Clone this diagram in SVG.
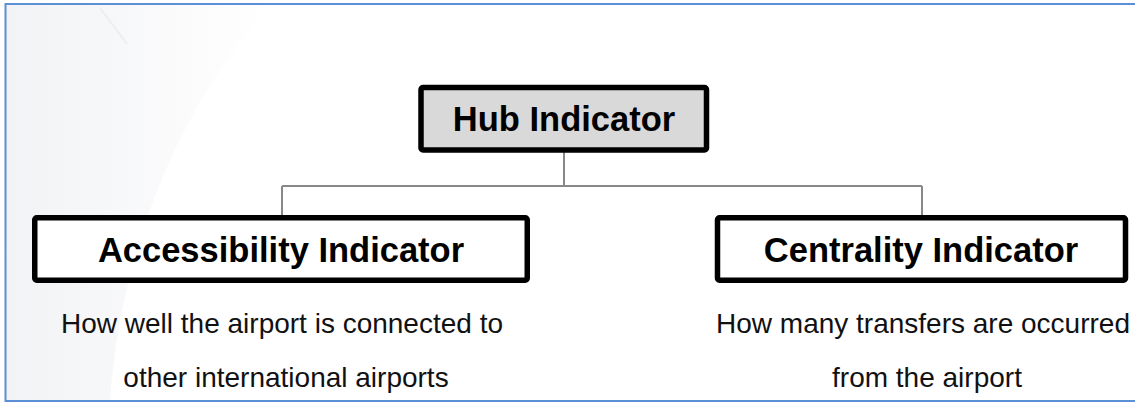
<svg xmlns="http://www.w3.org/2000/svg" width="1135" height="403" viewBox="0 0 1135 403">
  <defs>
    <linearGradient id="bg" x1="0" y1="0" x2="1" y2="0">
      <stop offset="0" stop-color="#f0f1f4"/>
      <stop offset="1" stop-color="#ffffff"/>
    </linearGradient>
    <style>
      .box { fill: #ffffff; stroke: #000000; stroke-width: 5.5; }
      .hub { fill: #d9d9d9; }
      .title { font-family: "Liberation Sans", Arial, sans-serif; font-weight: bold; font-size: 34.5px; fill: #000000; text-anchor: middle; }
      .desc { font-family: "Liberation Sans", Arial, sans-serif; font-size: 28px; fill: #111111; text-anchor: middle; }
      .conn { fill: none; stroke: #888888; stroke-width: 2; }
      .frame { fill: none; stroke: #5b8fd6; stroke-width: 2; }
    </style>
  </defs>
  <rect x="0" y="0" width="1135" height="403" fill="#ffffff"/>
  <!-- faint background swoosh -->
  <path d="M5 4 L270 4 C170 120 120 260 110 401 L5 401 Z" fill="url(#bg)" opacity="0.9"/>
  <path d="M100 8 L127 44" stroke="#eceef1" stroke-width="2" fill="none"/>
  <!-- frame -->
  <path class="frame" d="M1135 4 L5.5 4 L5.5 401 L1135 401"/>

  <g id="connectors">
    <path class="conn" d="M564 152 L564 186"/>
    <path class="conn" d="M282 186 L922 186"/>
    <path class="conn" d="M282 186 L282 216"/>
    <path class="conn" d="M922 186 L922 216"/>
  </g>

  <g id="hub">
    <rect class="box hub" x="421" y="87.5" width="285.5" height="62.5" rx="2"/>
    <text class="title" x="564" y="131">Hub Indicator</text>
  </g>

  <g id="accessibility">
    <rect class="box" x="34.75" y="217.75" width="492.5" height="62.5" rx="2"/>
    <text class="title" x="281" y="262">Accessibility Indicator</text>
    <text class="desc" x="282" y="333">How well the airport is connected to</text>
    <text class="desc" x="286" y="387">other international airports</text>
  </g>

  <g id="centrality">
    <rect class="box" x="717.5" y="217.75" width="408" height="62.5" rx="2"/>
    <text class="title" x="921" y="262">Centrality Indicator</text>
    <text class="desc" x="923" y="333">How many transfers are occurred</text>
    <text class="desc" x="927" y="387">from the airport</text>
  </g>
</svg>
